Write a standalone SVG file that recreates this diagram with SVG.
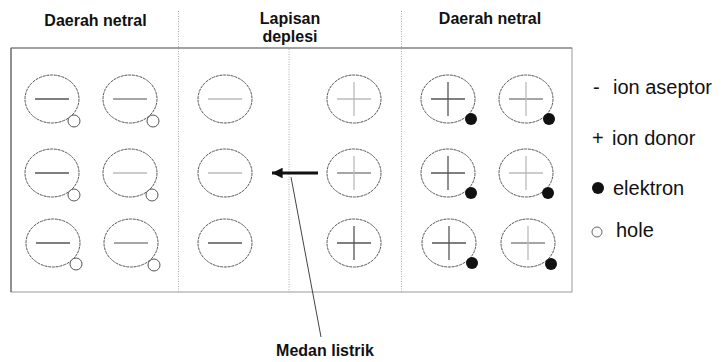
<svg xmlns="http://www.w3.org/2000/svg" width="722" height="362" viewBox="0 0 722 362">
<style>
.hdr{font-family:"Liberation Sans",Arial,sans-serif;font-weight:bold;font-size:16px;fill:#111;text-anchor:middle}
.leg{font-family:"Liberation Sans",Arial,sans-serif;font-size:20px;fill:#111}
.ion{fill:none;stroke:#555;stroke-width:1;stroke-dasharray:3 0.8}
.div{stroke:#aaa;stroke-width:1;stroke-dasharray:1 1.5}
.hole{fill:#fff;stroke:#555;stroke-width:1}
.el{fill:#111}
.s1{stroke:#555;stroke-width:1.3}
.s2{stroke:#888;stroke-width:1.3}
.s3{stroke:#bbb;stroke-width:1.3}
</style>
<defs>
<marker id="ah" viewBox="0 0 10 10" refX="10" refY="5" markerWidth="4.8" markerHeight="3.8" orient="auto" markerUnits="strokeWidth">
<path d="M0,0 L10,5 L0,10 z" fill="#111"/>
</marker>
</defs>
<rect width="722" height="362" fill="#fff"/>

<g id="frame">
<rect x="11" y="48" width="561" height="244" fill="none" stroke="#9a9a9a" stroke-width="1"/>
<line x1="11" y1="48" x2="11" y2="292" stroke="#555" stroke-width="1"/>
<line x1="11" y1="48" x2="572" y2="48" stroke="#777" stroke-width="1"/>
<line class="div" x1="178.5" y1="11" x2="178.5" y2="292"/>
<line class="div" x1="289" y1="49" x2="289" y2="292"/>
<line class="div" x1="401.5" y1="11" x2="401.5" y2="292"/>
</g>

<g id="headers">
<text class="hdr" x="95.5" y="26">Daerah netral</text>
<text class="hdr" x="290" y="24">Lapisan</text>
<text class="hdr" x="290" y="42">deplesi</text>
<text class="hdr" x="490" y="24">Daerah netral</text>
</g>

<!-- row 1 -->
<g id="a11"><ellipse class="ion" cx="52" cy="99" rx="27" ry="24"/><line class="s1" x1="35" y1="99" x2="69" y2="99"/><circle class="hole" cx="74" cy="121" r="6"/></g>
<g id="a12"><ellipse class="ion" cx="130" cy="99" rx="27" ry="24"/><line class="s2" x1="113" y1="99" x2="147" y2="99"/><circle class="hole" cx="153" cy="121" r="6"/></g>
<g id="a13"><ellipse class="ion" cx="225" cy="99" rx="27" ry="24"/><line class="s3" x1="208" y1="99" x2="242" y2="99"/></g>
<g id="d14"><ellipse class="ion" cx="354" cy="99" rx="27" ry="24"/><line class="s3" x1="337" y1="99" x2="371" y2="99"/><line class="s3" x1="354" y1="82" x2="354" y2="116"/></g>
<g id="d15"><ellipse class="ion" cx="448" cy="99" rx="27" ry="24"/><line class="s1" x1="431" y1="99" x2="465" y2="99"/><line class="s1" x1="448" y1="82" x2="448" y2="116"/><circle class="el" cx="471" cy="119" r="6"/></g>
<g id="d16"><ellipse class="ion" cx="526" cy="99" rx="27" ry="24"/><line class="s2" x1="509" y1="99" x2="543" y2="99"/><line class="s3" x1="526" y1="82" x2="526" y2="116"/><circle class="el" cx="549" cy="119" r="6"/></g>

<!-- row 2 -->
<g id="a21"><ellipse class="ion" cx="52" cy="173" rx="27" ry="24"/><line class="s1" x1="35" y1="173" x2="69" y2="173"/><circle class="hole" cx="74" cy="195" r="6"/></g>
<g id="a22"><ellipse class="ion" cx="130" cy="173" rx="27" ry="24"/><line class="s3" x1="113" y1="173" x2="147" y2="173"/><circle class="hole" cx="152" cy="195" r="6"/></g>
<g id="a23"><ellipse class="ion" cx="225" cy="173" rx="27" ry="24"/><line class="s3" x1="208" y1="173" x2="242" y2="173"/></g>
<g id="d24"><ellipse class="ion" cx="354" cy="173" rx="27" ry="24"/><line class="s2" x1="337" y1="173" x2="371" y2="173"/><line class="s3" x1="354" y1="156" x2="354" y2="190"/></g>
<g id="d25"><ellipse class="ion" cx="448" cy="173" rx="27" ry="24"/><line class="s1" x1="431" y1="173" x2="465" y2="173"/><line class="s1" x1="448" y1="156" x2="448" y2="190"/><circle class="el" cx="471" cy="193" r="6"/></g>
<g id="d26"><ellipse class="ion" cx="526" cy="173" rx="27" ry="24"/><line class="s3" x1="509" y1="173" x2="543" y2="173"/><line class="s3" x1="526" y1="156" x2="526" y2="190"/><circle class="el" cx="548" cy="193" r="6"/></g>

<!-- row 3 -->
<g id="a31"><ellipse class="ion" cx="53" cy="243" rx="27" ry="24"/><line class="s1" x1="36" y1="243" x2="70" y2="243"/><circle class="hole" cx="76" cy="264" r="6"/></g>
<g id="a32"><ellipse class="ion" cx="131" cy="243" rx="27" ry="24"/><line class="s2" x1="114" y1="243" x2="148" y2="243"/><circle class="hole" cx="154" cy="265" r="6"/></g>
<g id="a33"><ellipse class="ion" cx="225" cy="243" rx="27" ry="24"/><line class="s1" x1="208" y1="243" x2="242" y2="243"/></g>
<g id="d34"><ellipse class="ion" cx="354" cy="243" rx="27" ry="24"/><line class="s1" x1="337" y1="243" x2="371" y2="243"/><line class="s1" x1="354" y1="226" x2="354" y2="260"/></g>
<g id="d35"><ellipse class="ion" cx="449" cy="243" rx="27" ry="24"/><line class="s1" x1="432" y1="243" x2="466" y2="243"/><line class="s1" x1="449" y1="226" x2="449" y2="260"/><circle class="el" cx="472" cy="263" r="6"/></g>
<g id="d36"><ellipse class="ion" cx="528" cy="243" rx="27" ry="24"/><line class="s2" x1="511" y1="243" x2="545" y2="243"/><line class="s3" x1="528" y1="226" x2="528" y2="260"/><circle class="el" cx="551" cy="264" r="6"/></g>

<g id="connectors">
<line x1="318" y1="173" x2="272" y2="173" stroke="#111" stroke-width="2.8" marker-end="url(#ah)"/>
<line x1="291" y1="177" x2="321" y2="337" stroke="#444" stroke-width="1"/>
</g>

<g id="label-medan">
<text class="hdr" x="325" y="356">Medan listrik</text>
</g>

<g id="legend">
<text class="leg" x="593" y="94">-<tspan x="613">ion aseptor</tspan></text>
<text class="leg" x="592" y="145">+<tspan x="612">ion donor</tspan></text>
<circle cx="598" cy="188" r="6" fill="#111"/>
<text class="leg" x="613" y="195">elektron</text>
<circle cx="597" cy="232" r="5" fill="#fff" stroke="#666" stroke-width="1"/>
<text class="leg" x="616" y="237">hole</text>
</g>
</svg>
